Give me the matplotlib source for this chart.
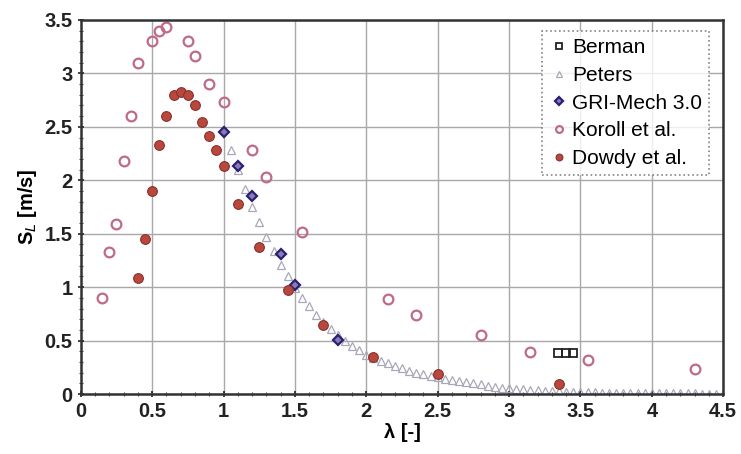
import matplotlib.pyplot as plt
import numpy as np

plt.rcParams['font.family'] = ['Liberation Sans', 'DejaVu Sans']

# Berman
berman_x = [3.34, 3.40, 3.45]
berman_y = [0.38, 0.38, 0.38]

# Peters
peters_x = [1.05, 1.10, 1.15, 1.20, 1.25, 1.30, 1.35, 1.40, 1.45, 1.50,
            1.55, 1.60, 1.65, 1.70, 1.75, 1.80, 1.85, 1.90, 1.95, 2.00,
            2.05, 2.10, 2.15, 2.20, 2.25, 2.30, 2.35, 2.40, 2.45, 2.50,
            2.55, 2.60, 2.65, 2.70, 2.75, 2.80, 2.85, 2.90, 2.95, 3.00,
            3.05, 3.10, 3.15, 3.20, 3.25, 3.30, 3.35, 3.40, 3.45, 3.50,
            3.55, 3.60, 3.65, 3.70, 3.75, 3.80, 3.85, 3.90, 3.95, 4.00,
            4.05, 4.10, 4.15, 4.20, 4.25, 4.30, 4.35, 4.40, 4.45, 4.50]
peters_y = [2.28, 2.10, 1.92, 1.75, 1.61, 1.47, 1.34, 1.21, 1.10, 0.99,
            0.90, 0.82, 0.74, 0.67, 0.61, 0.55, 0.50, 0.45, 0.41, 0.37,
            0.34, 0.31, 0.29, 0.26, 0.24, 0.22, 0.20, 0.19, 0.17, 0.16,
            0.14, 0.13, 0.12, 0.11, 0.10, 0.09, 0.08, 0.07, 0.06, 0.055,
            0.05, 0.045, 0.04, 0.035, 0.03, 0.028, 0.025, 0.022, 0.02, 0.018,
            0.016, 0.015, 0.014, 0.013, 0.012, 0.011, 0.010, 0.009, 0.009, 0.008,
            0.008, 0.007, 0.007, 0.006, 0.006, 0.006, 0.005, 0.005, 0.005, 0.005]

# GRI-Mech 3.0
gri_x = [1.0, 1.1, 1.2, 1.4, 1.5, 1.8]
gri_y = [2.45, 2.13, 1.85, 1.31, 1.02, 0.51]

# Koroll et al.
koroll_x = [0.15, 0.20, 0.25, 0.30, 0.35, 0.40, 0.50, 0.55, 0.60, 0.75, 0.80,
            0.90, 1.00, 1.20, 1.30, 1.55, 2.15, 2.35, 2.80, 3.15, 3.55, 4.30]
koroll_y = [0.90, 1.33, 1.59, 2.18, 2.60, 3.10, 3.30, 3.40, 3.43, 3.30, 3.16,
            2.90, 2.73, 2.28, 2.03, 1.52, 0.89, 0.74, 0.55, 0.39, 0.32, 0.23]

# Dowdy et al.
dowdy_x = [0.40, 0.45, 0.50, 0.55, 0.60, 0.65, 0.70, 0.75, 0.80, 0.85, 0.90,
           0.95, 1.00, 1.10, 1.25, 1.45, 1.70, 2.05, 2.50, 3.35]
dowdy_y = [1.09, 1.45, 1.90, 2.33, 2.60, 2.80, 2.83, 2.80, 2.70, 2.55, 2.41,
           2.28, 2.13, 1.78, 1.38, 0.97, 0.65, 0.35, 0.19, 0.09]

fig = plt.figure(figsize=(7.41, 4.54), dpi=100)
ax = fig.add_axes([0.109, 0.132, 0.867, 0.824])

ax.plot(berman_x, berman_y, 's', ms=6, mfc='none', mec='#222222', mew=1.3, label='Berman')
ax.plot(peters_x, peters_y, '^', ms=6, mfc='none', mec='#a8a8b8', mew=0.9, label='Peters')
ax.plot(gri_x, gri_y, 'D', ms=5.5, mfc='#8a7ab8', mec='#2a2070', mew=1.6, label='GRI-Mech 3.0')
ax.plot(koroll_x, koroll_y, 'o', ms=7, mfc='none', mec='#c06a8a', mew=1.6, label='Koroll et al.')
ax.plot(dowdy_x, dowdy_y, 'o', ms=7, mfc='#b8483c', mec='#8a3030', mew=0.8, label='Dowdy et al.')

ax.set_xlim(0, 4.5)
ax.set_ylim(0, 3.5)
ax.set_xticks(np.arange(0, 4.51, 0.5))
ax.set_yticks(np.arange(0, 3.51, 0.5))
ax.set_xticklabels(['0', '0.5', '1', '1.5', '2', '2.5', '3', '3.5', '4', '4.5'])
ax.set_yticklabels(['0', '0.5', '1', '1.5', '2', '2.5', '3', '3.5'])
ax.set_xticks(np.arange(0, 4.51, 0.1), minor=True)
ax.set_yticks(np.arange(0, 3.51, 0.1), minor=True)
ax.grid(True, which='major', color='#a8a8a8', lw=1.0)
ax.set_axisbelow(True)

for lab in ax.get_xticklabels() + ax.get_yticklabels():
    lab.set_fontweight('bold')
ax.tick_params(which='major', direction='inout', length=5, width=1.2, labelsize=14.5, colors='#222222')
ax.tick_params(which='minor', direction='inout', length=3, width=0.8, colors='#444444')
for s in ax.spines.values():
    s.set_color('#333333')
    s.set_linewidth(1.8)

ax.set_xlabel('λ [-]', fontsize=14.5, fontweight='bold', labelpad=1)
ax.set_ylabel('S$_L$ [m/s]', fontsize=14.5, fontweight='bold', labelpad=4)

leg = ax.legend(loc='upper right', fontsize=15, frameon=True, fancybox=False,
                handletextpad=0.1, handlelength=1.0, borderpad=0.35, labelspacing=0.42,
                markerscale=0.7, bbox_to_anchor=(0.978, 0.971), borderaxespad=0)
leg.get_frame().set_edgecolor('#666666')
leg.get_frame().set_linestyle(':')
leg.get_frame().set_linewidth(1.2)

fig.savefig('out.png', dpi=100)
